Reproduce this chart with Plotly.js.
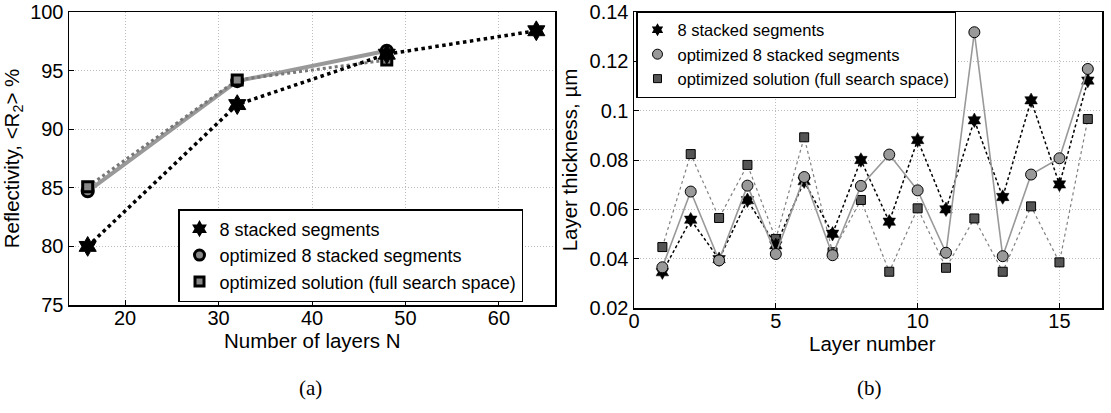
<!DOCTYPE html>
<html><head><meta charset="utf-8">
<script src="https://cdn.plot.ly/plotly-3.0.1.min.js"></script>
<style>html,body{margin:0;padding:0;background:#fff}#plot{width:1111px;height:413px}</style>
</head><body><div id="plot"></div>
<script>
// (a) Reflectivity vs number of layers
const layersN = [16, 32, 48, 64];
const reflStacked = [80.0, 92.1, 96.4, 98.4];
const layersNopt = [16, 32, 48];
const reflOptStacked = [84.7, 94.1, 96.7];
const reflOptFull = [85.1, 94.2, 95.9];

// (b) Layer thickness vs layer number
const layerNum = [1,2,3,4,5,6,7,8,9,10,11,12,13,14,15,16];
const thickStacked = [0.0345,0.0558,0.0398,0.0637,0.0454,0.0714,0.0501,0.0800,0.0550,0.0881,0.0600,0.0961,0.0650,0.1042,0.0701,0.1122];
const thickOptStacked = [0.0365,0.0672,0.0393,0.0696,0.0419,0.0731,0.0414,0.0695,0.0822,0.0677,0.0424,0.1318,0.0410,0.0741,0.0807,0.1169];
const thickOptFull = [0.0447,0.0824,0.0565,0.0780,0.0480,0.0892,0.0426,0.0638,0.0347,0.0604,0.0363,0.0563,0.0347,0.0612,0.0385,0.0966];

const seriesNames = ["8 stacked segments", "optimized 8 stacked segments", "optimized solution (full search space)"];
const axisTitles = {xa: "Number of layers N", ya: "Reflectivity, &lt;R<sub>2</sub>&gt; %", xb: "Layer number", yb: "Layer thickness, µm"};
const captions = ["(a)", "(b)"];

const yTicksA = [75, 80, 85, 90, 95, 100];
const xTicksA = [20, 30, 40, 50, 60];
const yTicksB = [0.02, 0.04, 0.06, 0.08, 0.1, 0.12, 0.14];
const yTickTextB = ["0.02", "0.04", "0.06", "0.08", "0.1", "0.12", "0.14"];
const xTicksB = [0, 5, 10, 15];

const FONT = "Liberation Sans, Arial, sans-serif";
const SERIF = "Liberation Serif, DejaVu Serif, serif";

const traces = [
  // ---- (a) ----
  {x: layersNopt, y: reflOptStacked, mode: 'lines+markers', xaxis: 'x', yaxis: 'y', showlegend: false,
   line: {color: '#999999', width: 4},
   marker: {symbol: 'circle', size: 11, color: '#888888', line: {color: '#000', width: 3}}},
  {x: layersNopt, y: reflOptFull, mode: 'lines+markers', xaxis: 'x', yaxis: 'y', showlegend: false,
   line: {color: '#777777', width: 3, dash: 'dot'},
   marker: {symbol: 'square', size: 10, color: '#888888', line: {color: '#000', width: 3}}},
  {x: layersN, y: reflStacked, mode: 'lines+markers', xaxis: 'x', yaxis: 'y', showlegend: false,
   line: {color: '#000000', width: 3.5, dash: 'dot'},
   marker: {symbol: 'hexagram', size: 15, color: '#000', line: {color: '#000', width: 1}}},
  // legend entries (a)
  {x: [null], y: [null], mode: 'markers', xaxis: 'x', yaxis: 'y', name: seriesNames[0], legend: 'legend',
   marker: {symbol: 'hexagram', size: 13, color: '#000'}},
  {x: [null], y: [null], mode: 'markers', xaxis: 'x', yaxis: 'y', name: seriesNames[1], legend: 'legend',
   marker: {symbol: 'circle', size: 10, color: '#888', line: {color: '#000', width: 3}}},
  {x: [null], y: [null], mode: 'markers', xaxis: 'x', yaxis: 'y', name: seriesNames[2], legend: 'legend',
   marker: {symbol: 'square', size: 9, color: '#888', line: {color: '#000', width: 3}}},

  // ---- (b) ----
  {x: layerNum, y: thickOptFull, mode: 'lines+markers', xaxis: 'x2', yaxis: 'y2', showlegend: false,
   line: {color: '#808080', width: 1.2, dash: 'dot'},
   marker: {symbol: 'square', size: 9, color: '#555555', line: {color: '#000', width: 1}}},
  {x: layerNum, y: thickStacked, mode: 'lines+markers', xaxis: 'x2', yaxis: 'y2', showlegend: false,
   line: {color: '#000000', width: 1.5, dash: '3px,2.5px'},
   marker: {symbol: 'hexagram', size: 11, color: '#000', line: {color: '#000', width: 0.5}}},
  {x: layerNum, y: thickOptStacked, mode: 'lines+markers', xaxis: 'x2', yaxis: 'y2', showlegend: false,
   line: {color: '#999999', width: 1.6},
   marker: {symbol: 'circle', size: 11, color: '#999999', line: {color: '#000', width: 1}}},
  // legend entries (b)
  {x: [null], y: [null], mode: 'markers', xaxis: 'x2', yaxis: 'y2', name: seriesNames[0], legend: 'legend2',
   marker: {symbol: 'hexagram', size: 10, color: '#000'}},
  {x: [null], y: [null], mode: 'markers', xaxis: 'x2', yaxis: 'y2', name: seriesNames[1], legend: 'legend2',
   marker: {symbol: 'circle', size: 10, color: '#999', line: {color: '#000', width: 1}}},
  {x: [null], y: [null], mode: 'markers', xaxis: 'x2', yaxis: 'y2', name: seriesNames[2], legend: 'legend2',
   marker: {symbol: 'square', size: 8, color: '#555', line: {color: '#000', width: 1}}}
];

const W = 1111, H = 413;
const axCommon = {
  showline: true, linecolor: '#000', linewidth: 1.5, mirror: true,
  ticks: 'inside', ticklen: 5, tickcolor: '#000', tickwidth: 1,
  showgrid: true, gridcolor: '#bdbdbd', griddash: '1px,2px', gridwidth: 1,
  zeroline: false, tickfont: {family: FONT, size: 20, color: '#000'}
};
const titleFont = {family: FONT, size: 20.5, color: '#000'};

const layout = {
  width: W, height: H, autosize: false,
  margin: {l: 0, r: 0, t: 0, b: 0},
  paper_bgcolor: '#fff', plot_bgcolor: '#fff',
  font: {family: FONT, color: '#000'},
  xaxis: Object.assign({}, axCommon, {
    domain: [69/W, 555/W], range: [14, 66], tickvals: xTicksA, anchor: 'y',
    ticklabelposition: 'outside', ticklabelstandoff: -6
  }),
  yaxis: Object.assign({}, axCommon, {
    domain: [(H-305)/H, (H-12)/H], range: [75, 100], tickvals: yTicksA, anchor: 'x',
    title: {text: axisTitles.ya, font: titleFont, standoff: 6}
  }),
  xaxis2: Object.assign({}, axCommon, {
    domain: [634/W, 1102/W], range: [0, 16.5], tickvals: xTicksB, anchor: 'y2',
    ticklabelposition: 'outside', ticklabelstandoff: -6
  }),
  yaxis2: Object.assign({}, axCommon, {
    domain: [(H-308)/H, (H-12)/H], range: [0.02, 0.14], tickvals: yTicksB, ticktext: yTickTextB, anchor: 'x2',
    title: {text: axisTitles.yb, font: titleFont, standoff: 6}
  }),
  legend: {
    x: 178/W, y: (H-209)/H, xanchor: 'left', yanchor: 'top',
    bgcolor: '#fff', bordercolor: '#000', borderwidth: 1.5,
    font: {family: FONT, size: 18, color: '#000'},
    itemwidth: 30, tracegroupgap: 0
  },
  legend2: {
    x: 636/W, y: (H-11)/H, xanchor: 'left', yanchor: 'top',
    bgcolor: '#fff', bordercolor: '#000', borderwidth: 1.5,
    font: {family: FONT, size: 16.5, color: '#000'},
    itemwidth: 30, tracegroupgap: 0
  },
  annotations: [
    {text: axisTitles.xa, xref: 'paper', yref: 'paper', x: 312/W, y: (H-340)/H, xanchor: 'center', yanchor: 'middle',
     showarrow: false, font: titleFont},
    {text: axisTitles.xb, xref: 'paper', yref: 'paper', x: 872/W, y: (H-343)/H, xanchor: 'center', yanchor: 'middle',
     showarrow: false, font: titleFont},
    {text: captions[0], xref: 'paper', yref: 'paper', x: 310/W, y: (H-388)/H, xanchor: 'center', yanchor: 'middle',
     showarrow: false, font: {family: SERIF, size: 21, color: '#000'}},
    {text: captions[1], xref: 'paper', yref: 'paper', x: 870/W, y: (H-388)/H, xanchor: 'center', yanchor: 'middle',
     showarrow: false, font: {family: SERIF, size: 21, color: '#000'}}
  ]
};

Plotly.newPlot('plot', traces, layout, {staticPlot: true, displayModeBar: false});
</script>
</body></html>
